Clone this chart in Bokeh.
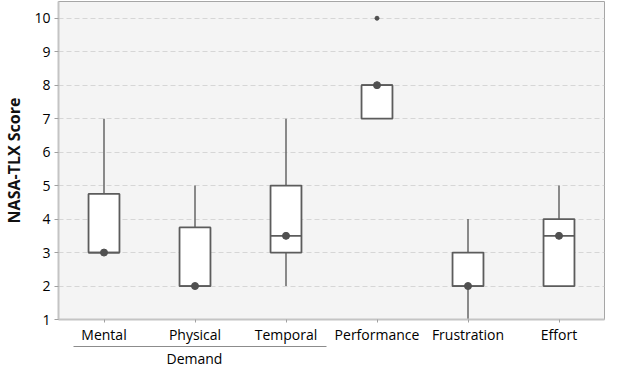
from bokeh.plotting import figure
from bokeh.models import ColumnDataSource, LinearAxis, FixedTicker, Title
from bokeh.embed import file_html
from bokeh.resources import INLINE

categories = ["Mental", "Physical", "Temporal", "Performance", "Frustration", "Effort"]
whisker_low = [3, 2, 2, 7, 1, 2]
q1 = [3, 2, 3, 7, 2, 2]
median = [3, 2, 3.5, 8, 2, 3.5]
q3 = [4.75, 3.75, 5, 8, 3, 4]
whisker_high = [7, 5, 7, 8, 4, 5]
outlier_cat = ["Performance"]
outlier_val = [10]
y_ticks = [1, 2, 3, 4, 5, 6, 7, 8, 9, 10]
group_label = "Demand"
group_members = ["Mental", "Physical", "Temporal"]

FONT = "Open Sans"
BOX_W = 0.34

xpos = [i + 0.5 for i in range(len(categories))]
src = ColumnDataSource(dict(x=xpos, x0=[v - BOX_W / 2 for v in xpos], x1=[v + BOX_W / 2 for v in xpos],
                            lo=whisker_low, q1=q1, med=median, q3=q3, hi=whisker_high))
osrc = ColumnDataSource(dict(x=[categories.index(c) + 0.5 for c in outlier_cat], val=outlier_val))

p = figure(x_range=(0, len(categories)), y_range=(1, 10.5), width=605, height=367,
           output_backend="svg", toolbar_location=None,
           min_border_left=45, min_border_right=1, min_border_top=1, min_border_bottom=40)
p.background_fill_color = "#f4f4f4"
p.border_fill_color = "white"
p.outline_line_color = "#a6a6a6"
p.outline_line_width = 1

p.xgrid.grid_line_color = None
p.ygrid.grid_line_color = "#d6d6d6"
p.ygrid.grid_line_dash = "5 3"
p.ygrid.ticker = FixedTicker(ticks=y_ticks)

p.yaxis.ticker = FixedTicker(ticks=y_ticks)
p.xaxis.ticker = FixedTicker(ticks=xpos)
p.xaxis.major_label_overrides = {v: c for v, c in zip(xpos, categories)}
for ax in (p.xaxis[0], p.yaxis[0]):
    ax.axis_line_color = "#c4c4c4"
    ax.axis_line_width = 2
    ax.major_tick_line_color = "#a0a0a0"
    ax.major_tick_in = 0
    ax.minor_tick_line_color = None
    ax.major_label_text_font = FONT
    ax.major_label_text_font_size = "14px"
    ax.major_label_text_color = "#000000"
p.yaxis.major_tick_out = 4
p.yaxis.major_label_standoff = 4
p.xaxis.major_tick_out = 3
p.xaxis.major_label_standoff = 2
p.yaxis.axis_label = "NASA-TLX Score"
p.yaxis.axis_label_text_font = FONT
p.yaxis.axis_label_text_font_size = "16px"
p.yaxis.axis_label_text_font_style = "bold"
p.yaxis.axis_label_text_color = "#111111"
p.yaxis.axis_label_standoff = 6

# whiskers
p.segment(x0="x", x1="x", y0="lo", y1="q1", source=src, line_color="#666666", line_width=1.5)
p.segment(x0="x", x1="x", y0="q3", y1="hi", source=src, line_color="#666666", line_width=1.5)
# boxes
p.vbar(x="x", width=BOX_W, bottom="q1", top="q3", source=src,
       fill_color="white", line_color="#5c5c5c", line_width=1.8)
# median lines
p.segment(x0="x0", x1="x1", y0="med", y1="med", source=src, line_color="#5c5c5c", line_width=1.8)
p.scatter(x="x", y="med", source=src, size=7, fill_color="#505050", line_color="#505050")
p.scatter(x="x", y="val", source=osrc, size=4, fill_color="#505050", line_color="#505050")

# group bracket under the grouped categories
g_first = categories.index(group_members[0])
g_last = categories.index(group_members[-1])
gax = LinearAxis(bounds=(g_first + 0.17, g_last + 0.94), ticker=FixedTicker(ticks=[]),
                 axis_line_color="#8c8c8c", axis_line_width=1, major_label_text_font_size="0px",
                 major_tick_line_color=None, minor_tick_line_color=None,
                 major_tick_out=0, major_tick_in=0, major_label_standoff=4)
p.add_layout(gax, "below")
p.add_layout(Title(text=group_label, align="left", offset=108, standoff=0, text_font=FONT,
                   text_font_size="14px", text_font_style="normal", text_color="#000000"), "below")

open("out.html", "w").write(file_html(p, INLINE))
